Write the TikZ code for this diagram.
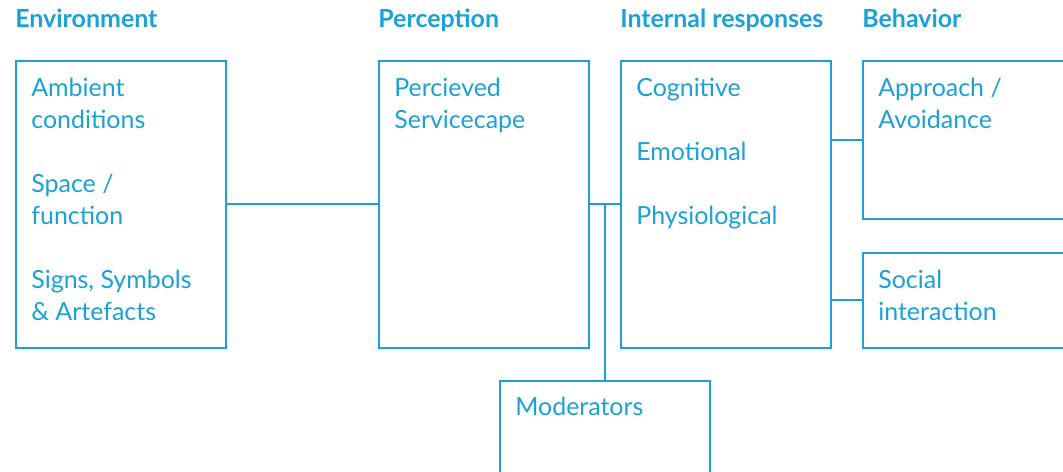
\documentclass[tikz,border=0pt]{standalone}
\usepackage{fontspec}
\setmainfont{Lato}
\usetikzlibrary{positioning}
\definecolor{scblue}{RGB}{27,161,216}
\newcommand{\grp}{\\[18.2pt]}
\tikzset{
	box/.style={draw=scblue, line width=1.1pt, anchor=north west, inner sep=0pt,
		minimum width=4.2cm, minimum height=5.74cm},
	boxtext/.style={anchor=north west, inner sep=0pt, align=left, text=scblue,
		font=\fontsize{14.2}{18.2}\selectfont},
	heading/.style={anchor=base west, inner sep=0pt, text=scblue,
		font=\fontsize{14.2}{16}\selectfont\bfseries},
	link/.style={draw=scblue, line width=1.1pt}
}
\begin{document}
\begin{tikzpicture}[x=0.02cm, y=-0.02cm]
	\useasboundingbox (0, 0) rectangle (1063, 472);
	\clip (0, 0) rectangle (1063, 472);
	% columns
	\node[box] (env) at (15, 60) {};
	\node[box] (perc) at (378, 60) {};
	\node[box] (resp) at (620, 60) {};
	\node[box, minimum height=3.16cm] (appr) at (862, 60) {};
	\node[box, minimum height=1.9cm] (soc) at (862, 252) {};
	\node[box] (mod) at (499, 380) {};
	% headings
	\node[heading] (envhead) at (15, 28) {Environment};
	\node[heading] (perchead) at (378, 28) {Perception};
	\node[heading] (resphead) at (620, 28) {Internal responses};
	\node[heading] (behhead) at (862, 28) {Behavior};
	% box texts
	\node[boxtext] (envtext) at (31, 78) {Ambient\\conditions\grp Space /\\function\grp Signs, Symbols\\\& Artefacts};
	\node[boxtext] (perctext) at (394, 78) {Percieved\\Servicecape};
	\node[boxtext] (resptext) at (636, 78) {Cognitive\grp Emotional\grp Physiological};
	\node[boxtext] (apprtext) at (878, 78) {Approach /\\Avoidance};
	\node[boxtext] (soctext) at (878, 270) {Social\\interaction};
	\node[boxtext] (modtext) at (515, 397) {Moderators};
	% connectors
	\draw[link] (env) -- (perc);
	\draw[link] (perc) -- coordinate (mid) (resp);
	\draw[link] (mod.north) -- (mid);
	\draw[link] (resp.east |- appr.west) -- (appr.west);
	\draw[link] (resp.east |- soc.west) -- (soc.west);
\end{tikzpicture}
\end{document}
